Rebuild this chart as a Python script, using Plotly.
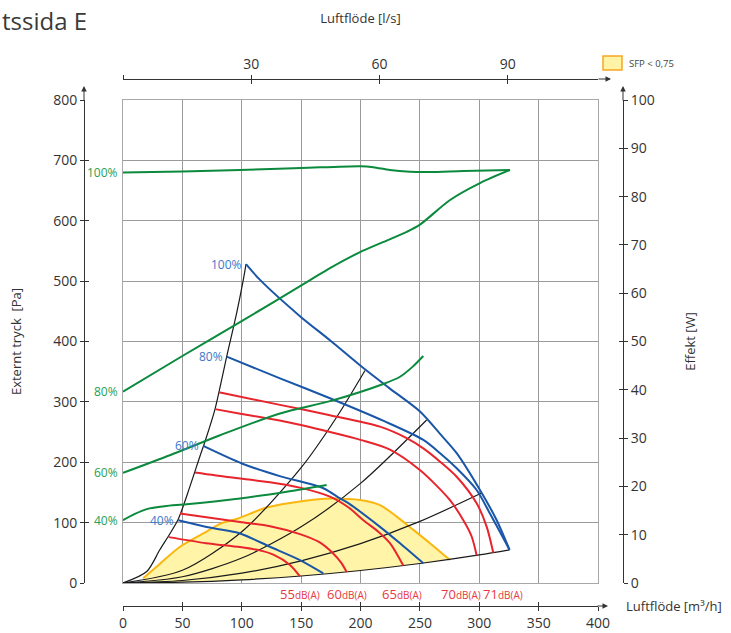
import plotly.graph_objects as go

# ---------------- data (airflow in m³/h, pressure in Pa, power in W) ----------------
# Fan curves (blue), external pressure [Pa]
fan_100_x = [103.6, 115.4, 149, 174.3, 202.4, 224.8, 250.1, 267, 281, 300.6, 314.7, 325.5]
fan_100_p = [528, 502, 442, 402, 356, 322, 284, 247, 215, 154, 104, 55]
fan_80_x = [87.3, 132.2, 174.3, 220, 252.9, 267, 281, 297.8, 309, 325.5]
fan_80_p = [375, 339, 306, 268, 237, 215, 190, 154, 115, 55]
fan_60_x = [67.6, 100, 132, 168.7, 182.7, 188.4, 216.4, 233.3, 252.9]
fan_60_p = [227, 198, 177, 157, 140, 134, 93, 65.7, 32.6]
fan_40_x = [46.6, 75, 98.5, 123.8, 149, 168.7]
fan_40_p = [104, 91, 82, 60, 38, 16]
fan_labels = ["100%", "80%", "60%", "40%"]

# Power curves (green), Effekt [W]
power_100_x = [0, 50, 98.5, 150, 200, 210.8, 224.8, 241.7, 258.5, 286.6, 325.9]
power_100_w = [85.0, 85.2, 85.5, 85.9, 86.3, 86.1, 85.5, 85.15, 85.1, 85.3, 85.5]
power_80_x = [0, 50, 98.5, 157.5, 174.3, 199.6, 216.4, 238.9, 250.1, 275.4, 300.6, 325.9]
power_80_w = [39.6, 47.0, 54.0, 62.7, 65.2, 68.5, 70.3, 72.7, 74.2, 79.3, 82.8, 85.5]
power_60_x = [0, 40, 81.7, 132.2, 175, 219.2, 233.3, 244, 252.9]
power_60_w = [22.8, 26.5, 30.6, 35.1, 37.7, 41.2, 42.7, 44.8, 47.0]
power_40_x = [0, 10, 20, 35, 53.6, 98.5, 137.8, 171.5]
power_40_w = [13.0, 14.3, 15.3, 15.9, 16.3, 17.5, 18.9, 20.3]
power_labels = ["100%", "80%", "60%", "40%"]

# Sound level curves (red) [Pa]
snd_55_x = [38.5, 70, 98.5, 115, 126.6, 140.6, 149]
snd_55_p = [76, 66, 59.5, 54, 47, 30, 11]
snd_60_x = [48, 98.5, 123.8, 149, 165, 177, 184, 188.4]
snd_60_p = [115, 101, 94, 81, 68, 49, 33, 18]
snd_65_x = [60.6, 90, 123.8, 149, 174.3, 190, 202.4, 215, 224.8, 236]
snd_65_p = [183, 175, 167, 158, 143, 125, 104, 85, 66, 29]
snd_70_x = [77.5, 100, 132, 174.3, 200, 224.8, 250, 275, 286.6, 293.6, 297.8]
snd_70_p = [288, 280, 269, 250, 237, 221, 187, 138, 104, 77, 46]
snd_71_x = [80.8, 132.2, 174.3, 216.4, 238.9, 252.9, 267, 281, 297.8, 306.3, 311.8]
snd_71_p = [316, 295, 278, 259, 240, 223, 201, 176, 132, 93, 50]
snd_levels = ["55", "60", "65", "70", "71"]
snd_label_x = [149, 188.4, 234.7, 284.5, 320]

# System curves (black) [Pa]
sys_a_x = [0, 50, 100, 150, 180, 203.8]
sys_a_p = [0, 21, 85, 191, 275, 352]
sys_b_x = [0, 50, 100, 150, 200, 255.7]
sys_b_p = [0, 10.3, 41.3, 93, 165, 270]
sys_c_x = [0, 50, 100, 150, 200, 250, 302]
sys_c_p = [0, 4.1, 16.3, 36.7, 65.2, 102, 149]
sys_d_x = [0, 50, 100, 150, 200, 250, 300, 325.5]
sys_d_p = [0, 1.3, 5.2, 11.6, 20.7, 32.3, 46.5, 55]
limit_x = [0, 20, 31, 39.6, 46.6, 56.4, 64.8, 69, 77.5, 80.8, 87.3, 95.7, 101.3, 103.6]
limit_p = [0, 19, 55, 82, 106, 160, 210, 234, 288, 316, 375, 447, 502, 528]

# SFP < 0,75 area
sfp_top_x = [17, 30, 48, 67.6, 81.7, 95.7, 121, 151.8, 175, 199.6, 216.4, 230.5, 244.5, 258.5, 275.4]
sfp_top_p = [8, 30, 60, 82, 98, 106, 125, 136, 140, 137.5, 129, 110, 88, 66, 38]
sfp_bottom_x = [275.4, 250, 200, 150, 100, 50, 17]
sfp_bottom_p = [39, 32.3, 20.7, 11.6, 5.2, 1.3, 0.15]

bottom_ticks = [0, 50, 100, 150, 200, 250, 300, 350, 400]
top_ticks = [0, 30, 60, 90]
top_ticktext = ["", "30", "60", "90"]
M3H_PER_LS = 3.6

# ---------------- styling ----------------
W, H = 731, 633
GREEN, GREEN_T = "#0b8a3e", "#25a055"
BLUE, BLUE_T = "#1a56a8", "#3b78c8"
RED, RED_T = "#e8242c", "#e8383f"
BLACK = "#1a1a1a"
GRID = "#9b9b9b"
FRAME = "#a8a8a8"
AX = "#333333"
FONT = "Open Sans"

px = lambda v: v / W
py = lambda v: 1 - v / H
xdom = [px(123), px(598)]
ydom = [py(583), py(100)]

fig = go.Figure()

def line(x, y, color, width=2, yaxis="y", shape="spline"):
    fig.add_trace(go.Scatter(x=x, y=y, mode="lines", yaxis=yaxis,
                             line=dict(color=color, width=width, shape=shape, smoothing=0.8),
                             hoverinfo="skip", showlegend=False))

# SFP area
fig.add_trace(go.Scatter(x=sfp_top_x + sfp_bottom_x, y=sfp_top_p + sfp_bottom_p, mode="lines",
                         fill="toself", fillcolor="#fff4a8",
                         line=dict(width=0, shape="spline", smoothing=0.6),
                         hoverinfo="skip", showlegend=False))
line(sfp_top_x, sfp_top_p, "#f9b70f", 2)

# system curves and limit
for xs, ps in [(sys_a_x, sys_a_p), (sys_b_x, sys_b_p), (sys_c_x, sys_c_p), (sys_d_x, sys_d_p)]:
    line(xs, ps, BLACK, 1.2)
line(limit_x, limit_p, BLACK, 1.2)

# sound curves
snd = [(snd_55_x, snd_55_p), (snd_60_x, snd_60_p), (snd_65_x, snd_65_p), (snd_70_x, snd_70_p), (snd_71_x, snd_71_p)]
for xs, ps in snd:
    line(xs, ps, RED, 2)

# fan curves
fans = [(fan_100_x, fan_100_p), (fan_80_x, fan_80_p), (fan_60_x, fan_60_p), (fan_40_x, fan_40_p)]
for xs, ps in fans:
    line(xs, ps, BLUE, 2)

# power curves
powers = [(power_100_x, power_100_w), (power_80_x, power_80_w), (power_60_x, power_60_w), (power_40_x, power_40_w)]
for xs, ws in powers:
    line(xs, ws, GREEN, 2, yaxis="y2")

# empty traces so decorative axes are drawn
for xa, ya in [("x2", "y"), ("x3", "y"), ("x4", "y"), ("x5", "y"), ("x", "y3"), ("x", "y4"), ("x", "y5")]:
    fig.add_trace(go.Scatter(x=[], y=[], xaxis=xa, yaxis=ya, showlegend=False, hoverinfo="skip"))

ann = []
for (xs, ps), lab in zip(fans, fan_labels):
    ann.append(dict(x=xs[0], y=ps[0], xref="x", yref="y", text=lab, showarrow=False,
                    xanchor="right", yanchor="middle", xshift=-2,
                    font=dict(size=12, color=BLUE_T, family=FONT)))
for (xs, ws), lab in zip(powers, power_labels):
    ann.append(dict(x=xs[0], y=ws[0], xref="x", yref="y2", text=lab, showarrow=False,
                    xanchor="right", yanchor="middle", xshift=-3,
                    font=dict(size=12, color=GREEN_T, family=FONT)))
for lx, lev in zip(snd_label_x, snd_levels):
    ann.append(dict(x=lx, y=0, xref="x", yref="y", yshift=-11,
                    text=f"{lev}<span style='font-size:10px'>dB(A)</span>", showarrow=False,
                    xanchor="center", yanchor="middle",
                    font=dict(size=13, color=RED_T, family=FONT)))

# axis arrows
for hx, hy, ax_, ay_ in [(84, 86, 0, 16), (623, 86, 0, 16), (608, 606, -12, 0), (611, 79, -14, 0)]:
    ann.append(dict(x=px(hx), y=py(hy), xref="paper", yref="paper", ax=ax_, ay=ay_,
                    showarrow=True, arrowhead=2, arrowsize=1.1, arrowwidth=1, arrowcolor=AX, text=""))

ann.append(dict(x=px(624), y=py(606), xref="paper", yref="paper", text="Luftflöde [m³/h]",
                showarrow=False, xanchor="left", yanchor="middle",
                font=dict(size=13, color=AX, family=FONT)))
ann.append(dict(x=px(627), y=py(63), xref="paper", yref="paper", text="SFP &lt; 0,75",
                showarrow=False, xanchor="left", yanchor="middle",
                font=dict(size=9.5, color="#444", family=FONT)))
ann.append(dict(x=0, y=py(2), xref="paper", yref="paper", text="tssida E",
                showarrow=False, xanchor="left", yanchor="top",
                font=dict(size=24, color="#3a3a3a", family=FONT)))

shapes = [dict(type="rect", xref="paper", yref="paper", x0=px(603), x1=px(622), y0=py(70), y1=py(56),
               fillcolor="#fff3a6", line=dict(color="#f6a623", width=1.5))]

tickfont = dict(size=14, color=AX, family=FONT)
common_dec = dict(showgrid=False, zeroline=False, fixedrange=True, linecolor=AX, tickcolor=AX, ticklen=4,
                  automargin=False)

fig.update_layout(
    width=W, height=H, margin=dict(l=0, r=0, t=0, b=0, autoexpand=False),
    paper_bgcolor="white", plot_bgcolor="white", showlegend=False,
    font=dict(family=FONT, color=AX),
    xaxis=dict(domain=xdom, range=[0, 400], dtick=50, tick0=0, showgrid=True, gridcolor=GRID, gridwidth=1,
               showticklabels=False, ticks="", showline=True, linecolor=FRAME, mirror=True,
               zeroline=False, anchor="y", fixedrange=True, automargin=False),
    yaxis=dict(domain=ydom, range=[0, 800], dtick=100, tick0=0, showgrid=True, gridcolor=GRID, gridwidth=1,
               showticklabels=False, ticks="", showline=True, linecolor=FRAME, mirror=True,
               zeroline=False, anchor="x", fixedrange=True, automargin=False),
    yaxis2=dict(overlaying="y", anchor="free", position=px(623), side="right", range=[0, 100], dtick=10,
                showline=True, ticks="outside", tickfont=tickfont,
                title=dict(text="Effekt [W]", font=dict(size=13, color=AX, family=FONT), standoff=32),
                **common_dec),
    yaxis3=dict(overlaying="y", anchor="free", position=px(84), side="left", range=[0, 800], dtick=100,
                showline=True, ticks="outside", tickfont=tickfont,
                title=dict(text="Externt tryck\u00a0\u00a0[Pa]", font=dict(size=13, color=AX, family=FONT), standoff=27),
                **common_dec),
    yaxis4=dict(overlaying="y", anchor="free", position=px(84), side="left", range=[0, 800], dtick=100,
                showline=False, ticks="inside", showticklabels=False, **common_dec),
    yaxis5=dict(overlaying="y", anchor="free", position=px(623), side="right", range=[0, 100], dtick=10,
                showline=False, ticks="inside", showticklabels=False, **common_dec),
    xaxis2=dict(overlaying="x", anchor="free", position=1 - 606 / H, side="bottom", range=[0, 400],
                tickvals=bottom_ticks, showline=True, ticks="outside", tickfont=tickfont, **common_dec),
    xaxis4=dict(overlaying="x", anchor="free", position=1 - 606 / H, side="bottom", range=[0, 400],
                tickvals=bottom_ticks, showline=False, ticks="inside", showticklabels=False, **common_dec),
    xaxis3=dict(overlaying="x", anchor="free", position=1 - 79 / H, side="top", range=[0, 400 / M3H_PER_LS],
                tickvals=top_ticks, ticktext=top_ticktext, showline=True, ticks="outside", tickfont=tickfont,
                title=dict(text="Luftflöde [l/s]", font=dict(size=13, color=AX, family=FONT), standoff=26),
                **common_dec),
    xaxis5=dict(overlaying="x", anchor="free", position=1 - 79 / H, side="top", range=[0, 400 / M3H_PER_LS],
                tickvals=top_ticks, showline=False, ticks="inside", showticklabels=False, **common_dec),
    annotations=ann, shapes=shapes,
)

fig.write_html("out.html", config={"displayModeBar": False},
               post_script="document.body.style.margin='0';document.body.style.overflow='hidden';")
